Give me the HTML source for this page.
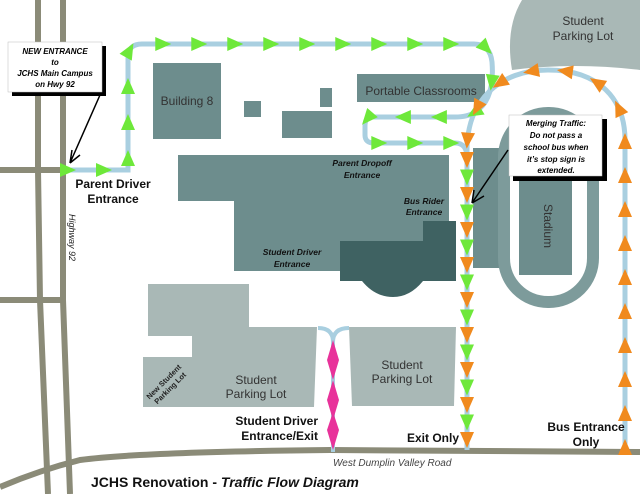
<!DOCTYPE html>
<html><head><meta charset="utf-8"><style>
html,body{margin:0;padding:0;background:#fff;}
svg{display:block;font-family:"Liberation Sans",sans-serif;}
.b{font-weight:bold;}
.bi{font-weight:bold;font-style:italic;}
</style></head><body>
<svg id="s" width="640" height="494" viewBox="0 0 640 494" xmlns="http://www.w3.org/2000/svg">
<rect width="640" height="494" fill="#fff"/>
<g stroke="#8b8b78" stroke-width="6" fill="none">
<path d="M38,0 L38,170 L40,300 L48,494"/>
<path d="M63,0 L63,300 L70,494"/>
<path d="M0,170 L63,170"/>
<path d="M0,300 L63,300"/>
<path d="M0,487 Q40,470 80,460 Q140,452 330,450 L640,452"/>
</g>
<g fill="#a9b8b6">
<path d="M522,0 L640,0 L640,70 Q575,62 512,70 Q505,28 522,0Z"/>
<path d="M148,284 L249,284 L249,327 L317,327 L314,407 L143,407 L143,357 L192,357 L192,336 L148,336Z"/>
<path d="M349,327 L456,327 L454,406 L352,406Z"/>
</g>
<g fill="#6d8d8d">
<rect x="153" y="63" width="68" height="76"/>
<rect x="244" y="101" width="17" height="16"/>
<rect x="282" y="111" width="50" height="27"/>
<rect x="320" y="88" width="12" height="19"/>
<rect x="357" y="74" width="128" height="28"/>
<path d="M178,155 L449,155 L449,241 L340,241 L340,271 L234,271 L234,201 L178,201Z"/>
<rect x="473" y="148" width="34" height="120"/>
</g>
<rect x="504" y="113" width="89" height="189" rx="44" fill="none" stroke="#7d9b9b" stroke-width="12"/>
<rect x="519" y="177" width="53" height="98" fill="#6d8d8d"/>
<g fill="#3f6262">
<path d="M423,221 L456,221 L456,281 L340,281 L340,241 L423,241Z"/>
<path d="M362,281 L423,281 Q410,297 393,297 Q375,297 362,281Z"/>
</g>
<path d="M318,328 Q333,328 333,342 Q333,328 349,328 M333,342 L333,452" stroke="#a9cfe0" stroke-width="4" fill="none"/>
<g fill="#e8329a">
<polygon points="333,340 339,360 333,380 327,360"/>
<polygon points="333,380 339,400 333,420 327,400"/>
<polygon points="333,412 339,430 333,450 327,430"/>
</g>
<path id="gp" d="M60,170 L128,170 L128,58 Q128,44 142,44 L474,44 Q490,44 492,62 Q495,100 475,112 Q468,117 455,117 L372,117 Q365,117 365,126 L365,135 Q365,143 374,143 L455,143 Q467,143 467,158 L467,450" stroke="#a9cfe0" stroke-width="5" fill="none"/>
<path id="op" d="M625,455 L625,140 C625,100 600,70 548,70 C500,70 467,100 467,150 L467,450" stroke="#a9cfe0" stroke-width="5" fill="none"/>
<g id="arrows"></g>
<rect x="12" y="46" width="94" height="50" fill="#000"/>
<rect x="8" y="42" width="94" height="50" fill="#fff" stroke="#bbb" stroke-width="0.5"/>
<text x="55" y="54" font-size="8" class="bi" text-anchor="middle">NEW ENTRANCE</text>
<text x="55" y="65" font-size="8" class="bi" text-anchor="middle">to</text>
<text x="55" y="76" font-size="8" class="bi" text-anchor="middle">JCHS Main Campus</text>
<text x="55" y="87" font-size="8" class="bi" text-anchor="middle">on Hwy 92</text>
<path d="M100,95 L70,163 M70,163 L72,150 M70,163 L80,155" stroke="#000" stroke-width="1.5" fill="none"/>
<rect x="513" y="119" width="94" height="62" fill="#000"/>
<rect x="509" y="115" width="93" height="61" fill="#fff" stroke="#bbb" stroke-width="0.5"/>
<g font-size="8" class="bi" text-anchor="middle">
<text x="556" y="126">Merging Traffic:</text>
<text x="556" y="138">Do not pass a</text>
<text x="556" y="150">school bus when</text>
<text x="556" y="162">it’s stop sign is</text>
<text x="556" y="173">extended.</text>
</g>
<path d="M508,150 L472,203 M472,203 L474,190 M472,203 L484,196" stroke="#000" stroke-width="1.5" fill="none"/>
<g font-size="12" class="b" fill="#111">
<text x="113" y="188" text-anchor="middle">Parent Driver</text>
<text x="113" y="203" text-anchor="middle">Entrance</text>
<text x="318" y="425" text-anchor="end">Student Driver</text>
<text x="318" y="440" text-anchor="end">Entrance/Exit</text>
<text x="459" y="442" text-anchor="end">Exit Only</text>
<text x="586" y="431" text-anchor="middle">Bus Entrance</text>
<text x="586" y="446" text-anchor="middle">Only</text>
</g>
<g font-size="8.5" class="bi" fill="#111" text-anchor="middle">
<text x="362" y="166">Parent Dropoff</text>
<text x="362" y="178">Entrance</text>
<text x="424" y="204">Bus Rider</text>
<text x="424" y="215">Entrance</text>
<text x="292" y="255">Student Driver</text>
<text x="292" y="267">Entrance</text>
</g>
<g fill="#333" font-size="12" text-anchor="middle">
<text x="187" y="105">Building 8</text>
<text x="421" y="95">Portable Classrooms</text>
<text x="583" y="25">Student</text>
<text x="583" y="40">Parking Lot</text>
<text x="256" y="384">Student</text>
<text x="256" y="398">Parking Lot</text>
<text x="402" y="369">Student</text>
<text x="402" y="383">Parking Lot</text>
<text transform="translate(544,226) rotate(90)">Stadium</text>
</g>
<g font-size="7.5" class="b" fill="#222" text-anchor="middle" transform="translate(167,385) rotate(-45)">
<text x="0" y="-2">New Student</text>
<text x="0" y="7">Parking Lot</text>
</g>
<text transform="translate(69,214) rotate(90)" font-size="9" font-style="italic" fill="#222">Highway 92</text>
<text x="333" y="466" font-size="10" font-style="italic" fill="#444">West Dumplin Valley Road</text>
<text x="91" y="487" font-size="14" class="b" fill="#111">JCHS Renovation - <tspan font-style="italic">Traffic Flow Diagram</tspan></text>
</svg>
<script>
(function(){
var ns="http://www.w3.org/2000/svg",g=document.getElementById("arrows");
function tri(x,y,ang,color){
  var t=document.createElementNS(ns,"polygon");
  t.setAttribute("points","8,0 -8,-7 -8,7");
  t.setAttribute("fill",color);
  t.setAttribute("transform","translate("+x+","+y+") rotate("+ang+")");
  g.appendChild(t);
}
function place(id,color,start,step){
 var p=document.getElementById(id),L=p.getTotalLength();
 for(var d=start;d<L-4;d+=step){
  var a=p.getPointAtLength(d),b=p.getPointAtLength(Math.min(d+1,L));
  if(Math.abs(a.x-467)<3 && a.y>150) continue;
  var ang=Math.atan2(b.y-a.y,b.x-a.x)*180/Math.PI;
  tri(a.x,a.y,ang,color);
 }
}
place("gp","#6ee83a",8,36);
place("op","#f08a1e",8,34);
var i=0;
for(var y=160;y<=446;y+=17.5){tri(467,y,90,(i%2==0)?"#f08a1e":"#6ee83a");i++;}
})();
</script>
</body></html>
